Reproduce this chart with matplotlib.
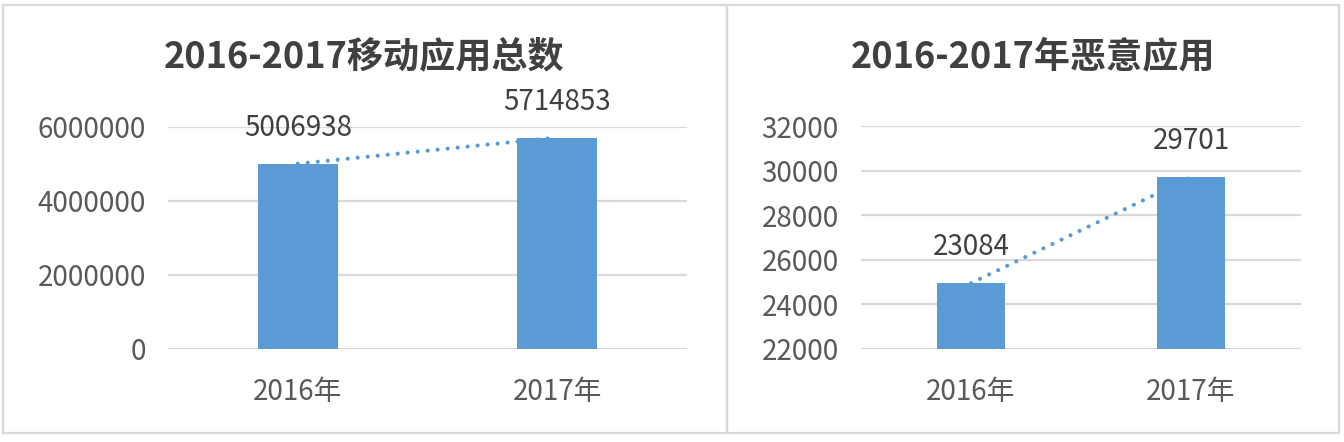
import numpy as np
import matplotlib
matplotlib.use("Agg")
import matplotlib.pyplot as plt
from matplotlib.patches import Rectangle

plt.rcParams['font.family'] = ['Noto Sans CJK SC', 'DejaVu Sans']

# ---- data ----
categories = ["2016年", "2017年"]
total_apps = [5006938, 5714853]
total_labels = ["5006938", "5714853"]
total_ticks = [0, 2000000, 4000000, 6000000]

malicious_apps = [24950, 29701]          # bar heights as drawn
malicious_labels = ["23084", "29701"]    # data labels as printed
malicious_ticks = [22000, 24000, 26000, 28000, 30000, 32000]

title_left = "2016-2017移动应用总数"
title_right = "2016-2017年恶意应用"

BLUE = "#5b9bd5"
GRID = "#d9d9d9"
TICK = "#595959"
LABEL = "#404040"

W, H = 1344, 442
fig = plt.figure(figsize=(W / 100, H / 100), dpi=100)

def px(x0, y0, x1, y1):
    return [x0 / W, 1 - y1 / H, (x1 - x0) / W, (y1 - y0) / H]

# panel borders
for (x0, x1) in [(3, 727), (727, 1339)]:
    fig.patches.append(Rectangle((x0 / W, 1 - 433 / H), (x1 - x0) / W, (433 - 5) / H,
                                 transform=fig.transFigure, fill=False,
                                 edgecolor=GRID, linewidth=1.6, zorder=0))

def draw(ax, vals, labels, ticks, title, title_x, ylo, yhi):
    x = np.arange(len(categories))
    ax.set_xlim(-0.5, len(categories) - 0.5)
    ax.set_ylim(ylo, yhi)
    ax.set_yticks(ticks)
    ax.set_yticklabels([str(t) for t in ticks])
    ax.yaxis.grid(True, color=GRID, linewidth=1.6)
    ax.set_axisbelow(True)
    for s in ax.spines.values():
        s.set_visible(False)
    ax.tick_params(axis='both', length=0, labelsize=20, colors=TICK)
    ax.tick_params(axis='y', pad=16)
    ax.tick_params(axis='x', pad=20)
    ax.set_xticks(x)
    ax.set_xticklabels(categories)
    # trendline (linear fit)
    coef = np.polyfit(x, vals, 1)
    xs = np.array([x[0], x[-1]])
    ax.plot(xs, np.polyval(coef, xs), color=BLUE, linewidth=3.0,
            linestyle=(0, (0.01, 2.4)), dash_capstyle='round', zorder=2)
    ax.bar(x, np.array(vals) - ylo, bottom=ylo, width=0.31, color=BLUE, zorder=3)
    for xi, v, lab in zip(x, vals, labels):
        ax.annotate(lab, (xi, v), xytext=(0, 20), textcoords='offset points',
                    ha='center', va='baseline', fontsize=20, color=LABEL)
    fig.text(title_x / W, 1 - 57 / H, title, ha='center', va='center',
             fontsize=26, fontweight='bold', color=LABEL)

ax1 = fig.add_axes(px(168, 127, 687, 349))
draw(ax1, total_apps, total_labels, total_ticks, title_left, 364, 0, 6000000)

ax2 = fig.add_axes(px(861, 126, 1301, 349))
draw(ax2, malicious_apps, malicious_labels, malicious_ticks, title_right, 1033, 22000, 32000)

fig.savefig("out.png", dpi=100)
